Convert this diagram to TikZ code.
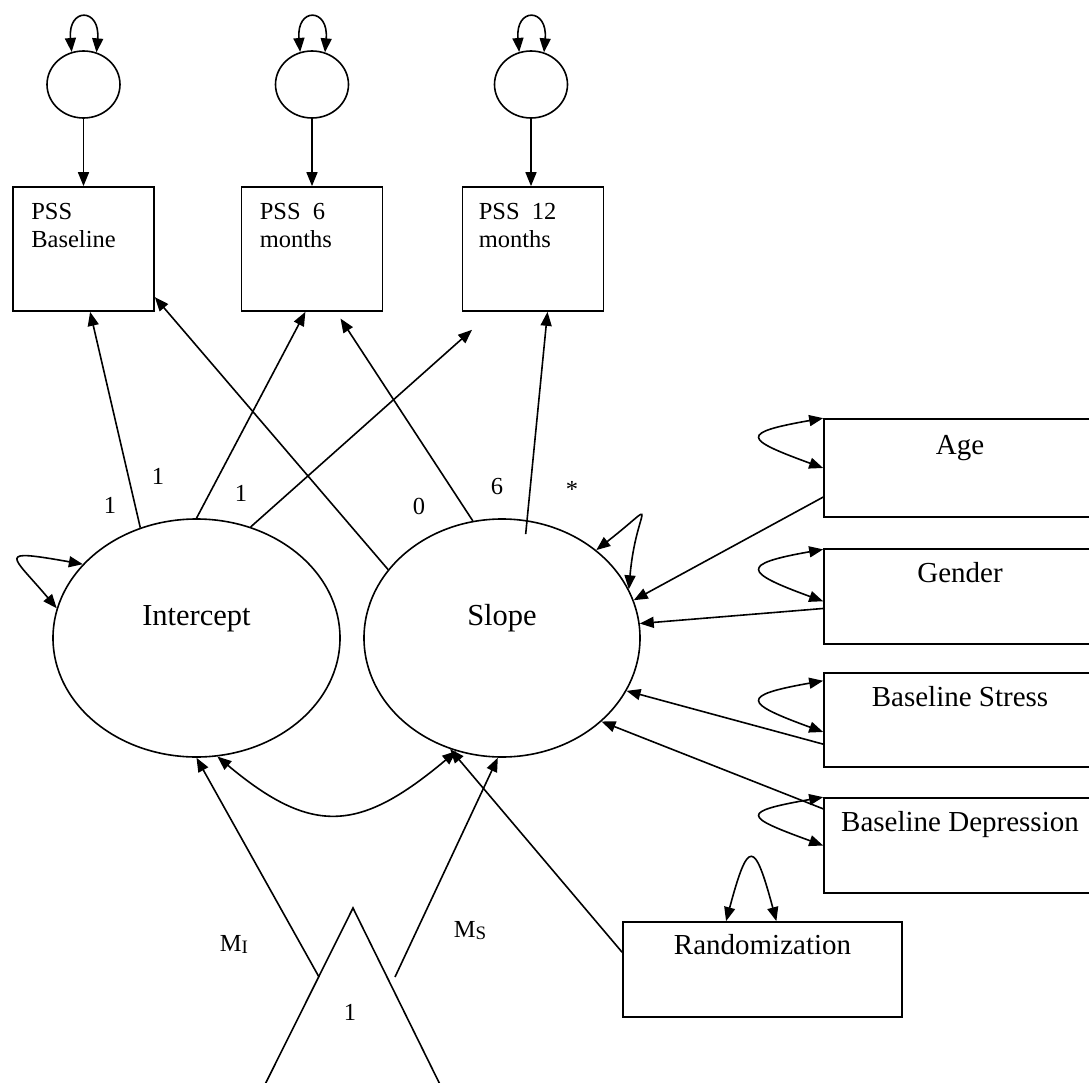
\documentclass[tikz,border=0pt]{standalone}
\usepackage{fontspec}
\setmainfont{Liberation Serif}
\usepackage{tikz}
\usetikzlibrary{shapes.geometric, arrows.meta}
\tikzstyle{latent} = [ellipse, draw=black, line width=1.6pt, minimum height=238pt,
    text height=20pt, text depth=46pt, font=\fontsize{30.5}{36}\selectfont]
\tikzstyle{resid} = [ellipse, draw=black, line width=1.6pt, minimum width=73pt, minimum height=67pt]
\tikzstyle{pssbox} = [rectangle, draw=black, line width=1.7pt, minimum width=141pt, minimum height=124pt]
\tikzstyle{covbox} = [rectangle, draw=black, line width=1.7pt, minimum width=272pt, minimum height=95pt]
\tikzstyle{pssname} = [anchor=north west, align=left, inner sep=0pt, xshift=19pt, yshift=-17pt,
    font=\fontsize{24.5}{28}\selectfont]
\tikzstyle{boxname} = [anchor=north, inner sep=0pt, yshift=-14pt, font=\fontsize{29}{34}\selectfont]
\tikzstyle{coef} = [inner sep=0pt, font=\fontsize{24.5}{28}\selectfont]
\tikzstyle{arrow} = [line width=1.6pt, -{Triangle[length=14pt, width=11pt]}]
\tikzstyle{twoway} = [line width=1.6pt, {Triangle[length=14pt, width=11pt]}-{Triangle[length=14pt, width=11pt]}]

\begin{document}
\begin{tikzpicture}[x=1pt, y=1pt]
\useasboundingbox (0,0) rectangle (1089,-1083);
            % residuals and PSS waves
            \node (e1) [resid] at (83.5,-84.5) {};
            \node (e2) [resid] at (312,-84.5) {};
            \node (e3) [resid] at (531,-84.5) {};
            \node (pssA) [pssbox, label={[pssname]north west:{PSS\\Baseline}}] at (83.5,-249) {};
            \node (pssB) [pssbox, label={[pssname]north west:{PSS~~6\\months}}] at (312,-249) {};
            \node (pssC) [pssbox, label={[pssname, xshift=-2pt]north west:{PSS~~12\\months}}] at (533,-249) {};

            % growth factors
            \node (icpt) [latent, minimum width=287pt] at (196.5,-638) {Intercept};
            \node (slope) [latent, minimum width=276pt] at (502,-638) {Slope};

            % covariates
            \node (age) [covbox, minimum height=98pt, label={[boxname, yshift=-3pt]north:Age}] at (960,-468) {};
            \node (gender) [covbox, label={[boxname]north:Gender}] at (960,-596.5) {};
            \node (bstress) [covbox, minimum height=94pt, label={[boxname]north:Baseline Stress}] at (960,-720) {};
            \node (bdep) [covbox, label={[boxname]north:Baseline Depression}] at (960,-845.5) {};
            \node (rand) [covbox, minimum width=279pt, label={[boxname, yshift=1pt]north:Randomization}] at (762.5,-969.5) {};

            % constant
            \coordinate (apex) at (353,-908);
            \coordinate (lcorner) at (265,-1084.5);
            \coordinate (rcorner) at (440,-1084.5);
            \draw [line width=1.6pt] (apex) -- (lcorner) -- (rcorner) -- cycle;
            \node (one) [coef] at (350,-1012) {1};
            \coordinate (mi) at (319,-977);
            \coordinate (ms) at (395,-977);

            % loadings
            \node (l1) [coef] at (110,-505) {1};
            \node (l2) [coef] at (158,-476) {1};
            \node (l3) [coef] at (241,-493) {1};
            \node (l4) [coef] at (419,-506) {0};
            \node (l5) [coef] at (497,-487) {6};
            \node (l6) [coef] at (572,-489) {*};
            \node (mI) [coef] at (234,-944) {M\raisebox{-2pt}{\fontsize{19}{19}\selectfont I}};
            \node (mS) [coef] at (470,-931) {M\raisebox{-2pt}{\fontsize{19}{19}\selectfont S}};

            \draw [arrow] (e1.south) -- (e1.south |- pssA.north);
            \draw [arrow] (e2.south) -- (e2.south |- pssB.north);
            \draw [arrow] (e3.south) -- (e3.south |- pssC.north);
            \draw [twoway] (e1.110) .. controls +(95:45) and +(85:45) .. (e1.68);
            \draw [twoway] (e2.110) .. controls +(95:45) and +(85:45) .. (e2.68);
            \draw [twoway] (e3.110) .. controls +(95:45) and +(85:45) .. (e3.68);

            \draw [arrow] (icpt.117) -- (pssA.-84);
            \draw [arrow] (icpt.90) -- (pssB.-96);
            \draw [arrow, shorten >=27pt] (icpt.64) -- (pssC.-123);
            \draw [arrow] (slope.149) -- (pssA.-34);
            \draw [arrow, shorten >=8pt] (slope.104) -- (pssB.-69);
            \draw [arrow, shorten <=-14pt] (slope.78) -- (pssC.-77);

            \draw [twoway] (icpt.147) .. controls +(170:90) and +(130:70) .. (icpt.168);
            \draw [twoway] (slope.43) .. controls +(38:85) and +(85:85) .. (slope.21);
            \draw [twoway] (icpt.-80) .. controls +(-40:125) and +(-140:125) .. (slope.-112);

            \draw [arrow] (age.192) -- (slope.16);
            \draw [arrow] (gender.185) -- (slope.6);
            \draw [arrow] (bstress.190) -- (slope.-23);
            \draw [arrow] (bdep.165) -- (slope.-40);
            \draw [arrow] (rand.173) -- (slope.-115);
            \draw [twoway] (age.north west) .. controls +(190:85) and +(160:85) .. (age.west);
            \draw [twoway] (gender.161) .. controls +(190:85) and +(160:85) .. (gender.182);
            \draw [twoway] (bstress.164) .. controls +(190:85) and +(160:85) .. (bstress.185);
            \draw [twoway] (bdep.north west) .. controls +(190:85) and +(160:85) .. (bdep.west);
            \draw [twoway] (rand.127) .. controls +(75:85) and +(105:85) .. (rand.74);

            \draw [arrow] (mi) -- (icpt.-90);
            \draw [arrow] (ms) -- (slope.-92);
        \end{tikzpicture}
\end{document}
